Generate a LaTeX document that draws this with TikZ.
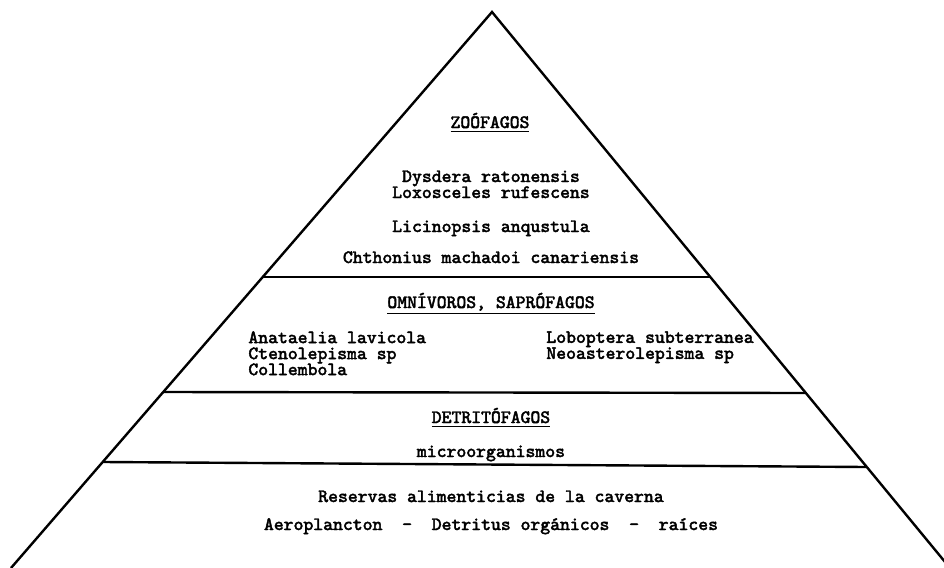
\documentclass[tikz,border=0pt]{standalone}
\usepackage{fontspec}
\newfontfamily\typed{Latin Modern Mono}[FakeBold=2.2]
\usetikzlibrary{positioning,calc}

\begin{document}
\begin{tikzpicture}[
    x=0.5pt, y=-0.5pt,
    side/.style={line width=1.2pt, line join=miter},
    tier/.style={line width=1.2pt},
    taxon/.style={font=\typed\fontsize{9.4}{8}\selectfont, inner sep=0pt, anchor=base},
    group/.style={taxon},
    column/.style={taxon, anchor=north west, align=left,
      execute at begin node={\lineskiplimit=-10pt\relax}}
  ]
    \useasboundingbox (0,0) rectangle (944,568);
    \clip (0,0) rectangle (944,568);

    % Pyramid outline
    \coordinate (apex) at (492,12);
    \coordinate (bl) at (11,568);
    \coordinate (br) at (950,568);
    \draw[side] (bl) -- (apex) -- (br);

    % Tier borders
    \coordinate (t1l) at (263,277);
    \coordinate (t1r) at (710,277);
    \coordinate (t2l) at (163,392);
    \coordinate (t2r) at (805,393);
    \coordinate (t3l) at (103,462);
    \coordinate (t3r) at (866,467);
    \draw[tier] (t1l) -- (t1r);
    \draw[tier] (t2l) -- (t2r);
    \draw[tier] (t3l) -- (t3r);

    % Zoofagos
    \node[group] (zoo) at (490,128) {\underline{ZOÓFAGOS}};
    \node[taxon] (dys) at (491,182) {Dysdera ratonensis};
    \node[taxon] (lox) at (491,198) {Loxosceles rufescens};
    \node[taxon] (lic) at (491,232) {Licinopsis anqustula};
    \node[taxon] (cht) at (491,263) {Chthonius machadoi canariensis};

    % Omnivoros, saprofagos
    \node[group] (omn) at (491,308) {\underline{OMNÍVOROS, SAPRÓFAGOS}};
    \node[column] (left) at (248,331) {Anataelia lavicola\\Ctenolepisma sp\\Collembola};
    \node[column] (right) at (546,331) {Loboptera subterranea\\Neoasterolepisma sp};

    % Detritofagos
    \node[group] (det) at (491,423) {\underline{DETRITÓFAGOS}};
    \node[taxon] (mic) at (491,457) {microorganismos};

    % Reservas
    \node[taxon] (res) at (491,502) {Reservas alimenticias de la caverna};
    \node[taxon] (aer) at (491,530) {Aeroplancton\ \ -\ \ Detritus orgánicos\ \ -\ \ raíces};
  \end{tikzpicture}
\end{document}
